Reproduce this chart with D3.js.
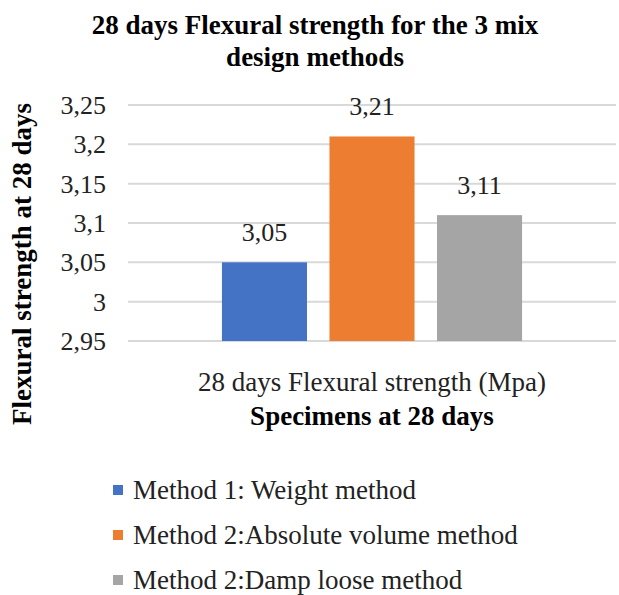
<!DOCTYPE html>
<html>
<head>
<meta charset="utf-8">
<script src="https://cdn.jsdelivr.net/npm/d3@7"></script>
</head>
<body style="margin:0">
<svg id="fig" width="619" height="595"></svg>
<script>
// Flexural strength at 28 days for each mix design method
const category = "28 days Flexural strength (Mpa)";
const methods = ["Method 1: Weight method", "Method 2:Absolute volume method", "Method 2:Damp loose method"];
const values = [3.05, 3.21, 3.11];
const colors = ["#4472C4", "#ED7D31", "#A5A5A5"];
const yTicks = [2.95, 3, 3.05, 3.1, 3.15, 3.2, 3.25];

const FONT = "Liberation Serif";
const svg = d3.select("#fig");
const fmt = v => String(+v.toFixed(2)).replace(".", ",");

const plot = { left: 128, right: 616, top: 105, bottom: 341 };

const y = d3.scaleLinear().domain([2.95, 3.25]).range([plot.bottom, plot.top]);
const xOuter = d3.scaleBand().domain([category]).range([plot.left, plot.right]).paddingInner(0).paddingOuter(0.313);
const xInner = d3.scaleBand().domain(methods).range([0, xOuter.bandwidth()]).paddingInner(0.209).paddingOuter(0);

// Title
svg.selectAll("text.title")
  .data(["28 days Flexural strength for the 3 mix", "design methods"])
  .join("text")
  .attr("class", "title")
  .attr("x", 315).attr("y", (d, i) => 34 + i * 32)
  .attr("text-anchor", "middle")
  .attr("font-size", 27).attr("font-weight", "bold")
  .style("font-family", FONT)
  .text(d => d);

// Gridlines
svg.selectAll("line.grid")
  .data(yTicks)
  .join("line")
  .attr("class", "grid")
  .attr("x1", plot.left).attr("x2", plot.right)
  .attr("y1", d => y(d)).attr("y2", d => y(d))
  .attr("stroke", "#D9D9D9").attr("stroke-width", 2);

// Y tick labels
svg.selectAll("text.ytick")
  .data(yTicks)
  .join("text")
  .attr("class", "ytick")
  .attr("x", plot.left - 22).attr("y", d => y(d) + 9)
  .attr("text-anchor", "end")
  .attr("font-size", 26).attr("fill", "#222")
  .style("font-family", FONT)
  .text(fmt);

// Bars
const g = svg.append("g").attr("transform", `translate(${xOuter(category)},0)`);
g.selectAll("rect")
  .data(methods)
  .join("rect")
  .attr("x", d => xInner(d))
  .attr("y", (d, i) => y(values[i]))
  .attr("width", xInner.bandwidth())
  .attr("height", (d, i) => plot.bottom - y(values[i]))
  .attr("fill", (d, i) => colors[i]);

// Value labels
g.selectAll("text.val")
  .data(methods)
  .join("text")
  .attr("class", "val")
  .attr("x", d => xInner(d) + xInner.bandwidth() / 2)
  .attr("y", (d, i) => y(values[i]) - 21)
  .attr("text-anchor", "middle")
  .attr("font-size", 26).attr("fill", "#222")
  .style("font-family", FONT)
  .text((d, i) => fmt(values[i]));

// Category label and x axis title
svg.selectAll("text.xlab")
  .data([{ t: category, b: false, yy: 391 }, { t: "Specimens at 28 days", b: true, yy: 425 }])
  .join("text")
  .attr("class", "xlab")
  .attr("x", xOuter(category) + xOuter.bandwidth() / 2).attr("y", d => d.yy)
  .attr("text-anchor", "middle")
  .attr("font-size", 27).attr("fill", d => d.b ? "#000" : "#222")
  .attr("font-weight", d => d.b ? "bold" : "normal")
  .style("font-family", FONT)
  .text(d => d.t);

// Y axis title
svg.selectAll("text.ytitle")
  .data(["Flexural strength at 28 days"])
  .join("text")
  .attr("class", "ytitle")
  .attr("transform", "translate(31,264) rotate(-90)")
  .attr("text-anchor", "middle")
  .attr("font-size", 27).attr("font-weight", "bold")
  .style("font-family", FONT)
  .text(d => d);

// Legend
svg.selectAll("rect.key")
  .data(methods)
  .join("rect")
  .attr("class", "key")
  .attr("x", 113).attr("y", (d, i) => 485 + i * 45)
  .attr("width", 10).attr("height", 10)
  .attr("fill", (d, i) => colors[i]);
svg.selectAll("text.key")
  .data(methods)
  .join("text")
  .attr("class", "key")
  .attr("x", 133).attr("y", (d, i) => 499 + i * 45)
  .attr("font-size", 27).attr("fill", "#222")
  .style("font-family", FONT)
  .text(d => d);
</script>
</body>
</html>
